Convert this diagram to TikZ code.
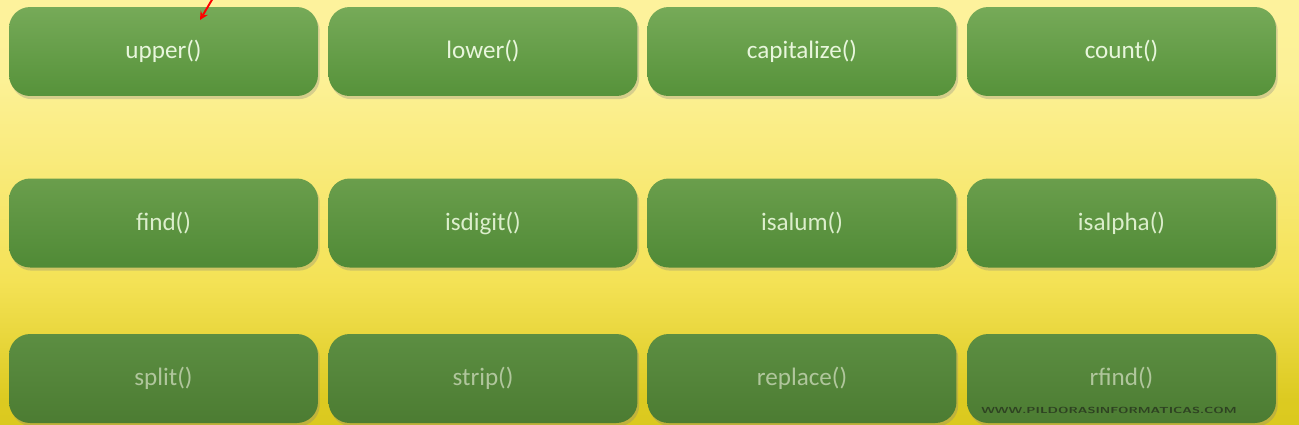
\documentclass[tikz,border=0pt]{standalone}
\usepackage{fontspec}
\setmainfont{Carlito}
\usetikzlibrary{shadows}

\definecolor{bgtop}{RGB}{255,246,172}
\definecolor{bgmid}{RGB}{244,226,86}
\definecolor{bgbot}{RGB}{210,192,10}
\definecolor{boxtopA}{RGB}{118,170,88}
\definecolor{boxbotA}{RGB}{86,146,58}
\definecolor{boxtopB}{RGB}{106,158,76}
\definecolor{boxbotB}{RGB}{80,138,54}
\definecolor{boxtopC}{RGB}{92,142,66}
\definecolor{boxbotC}{RGB}{76,124,50}
\definecolor{txtA}{RGB}{232,246,220}
\definecolor{txtB}{RGB}{220,238,204}
\definecolor{txtC}{RGB}{176,198,156}
\definecolor{markcol}{RGB}{46,66,34}

\pgfdeclareverticalshading{bgshade}{100bp}{
  color(0bp)=(bgbot); color(28bp)=(bgbot!70!bgmid); color(42bp)=(bgmid);
  color(66bp)=(bgtop!75!bgmid); color(100bp)=(bgtop)}

\begin{document}
\begin{tikzpicture}[x=0.02cm, y=-0.02cm]
        \tikzstyle{fn} = [rounded corners=12, minimum width=6.18cm, minimum height=1.78cm,
                          font=\fontsize{14.3}{16}\selectfont,
                          drop shadow={shadow xshift=1pt, shadow yshift=-1.8pt, opacity=0.3}]
        \tikzstyle{rowA} = [fn, top color=boxtopA, bottom color=boxbotA, text=txtA]
        \tikzstyle{rowB} = [fn, top color=boxtopB, bottom color=boxbotB, text=txtB]
        \tikzstyle{rowC} = [fn, top color=boxtopC, bottom color=boxbotC, text=txtC]

        \useasboundingbox (0, 0) rectangle (1299, 424);
        \shade[shading=bgshade] (0, 0) rectangle (1299, 424);

        \node[rowA] (upper) at (163.5, 51.5) {upper()};
        \node[rowA] (lower) at (483, 51.5) {lower()};
        \node[rowA] (capitalize) at (802, 51.5) {capitalize()};
        \node[rowA] (count) at (1121.5, 51.5) {count()};

        \node[rowB] (find) at (163.5, 223) {find()};
        \node[rowB] (isdigit) at (483, 223) {isdigit()};
        \node[rowB] (isalum) at (802, 223) {isalum()};
        \node[rowB] (isalpha) at (1121.5, 223) {isalpha()};

        \node[rowC] (split) at (163.5, 378.5) {split()};
        \node[rowC] (strip) at (483, 378.5) {strip()};
        \node[rowC] (replace) at (802, 378.5) {replace()};
        \node[rowC] (rfind) at (1121.5, 378.5) {rfind()};

        \node[text=markcol, font=\sffamily\bfseries\fontsize{5}{5}\selectfont] (site) at (1109, 410)
            {\scalebox{1.5}[1]{WWW.PILDORASINFORMATICAS.COM}};

        \coordinate (pointer) at (213, -2);
        \coordinate (pointed) at (200, 20);
        \draw[red, line width=1.1pt, -stealth] (pointer) to (pointed);
    \end{tikzpicture}
\end{document}
